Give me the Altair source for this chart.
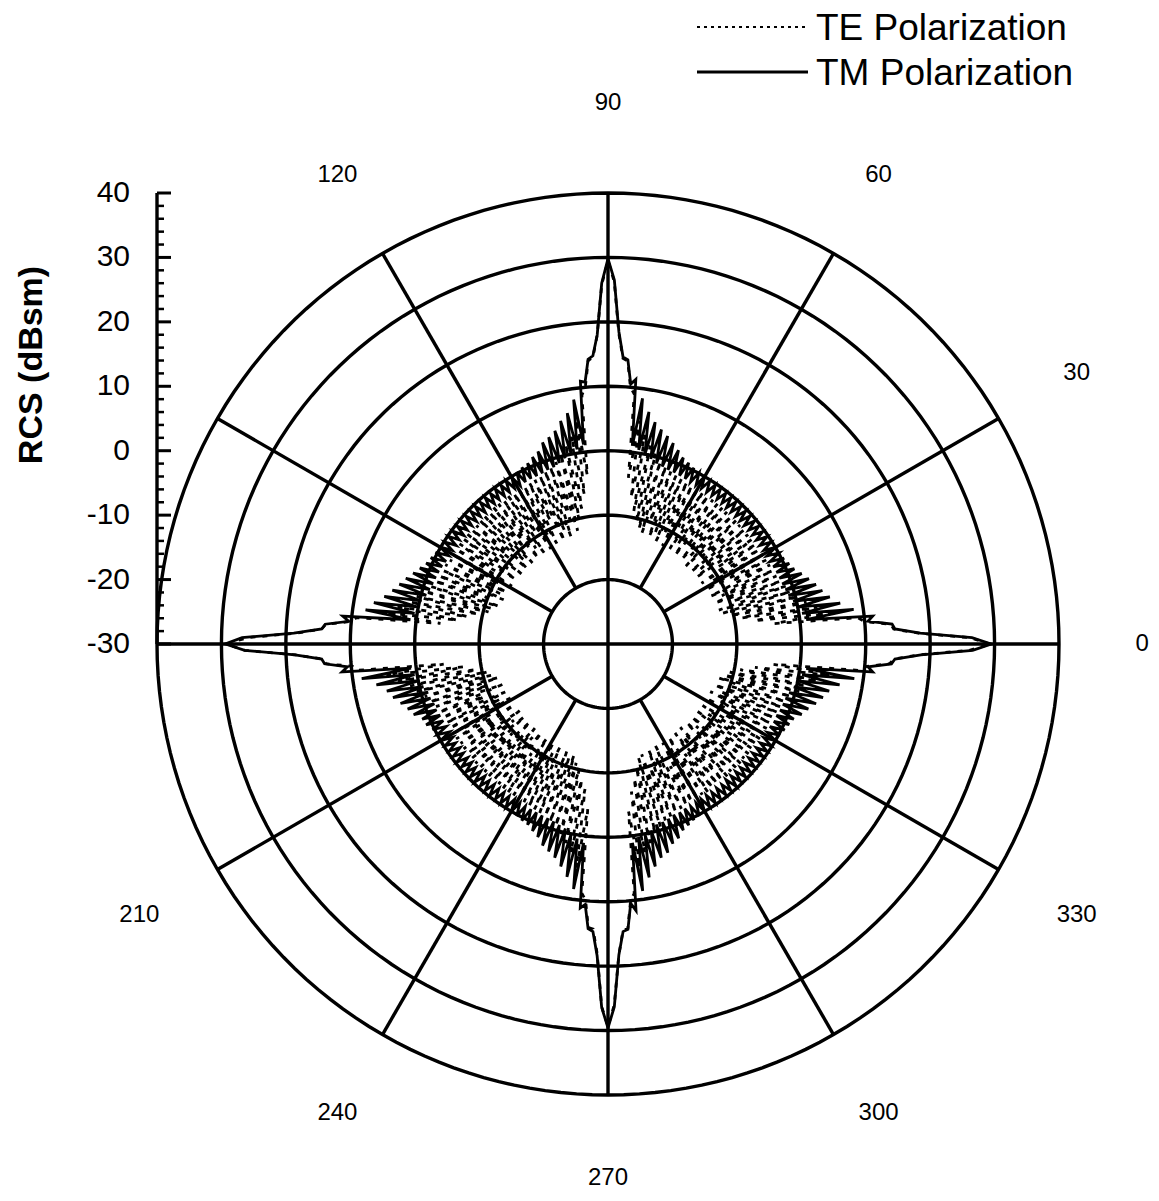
import altair as alt
import pandas as pd

FONT = "Liberation Sans, Arial, Helvetica, sans-serif"

SERIES = ["TE Polarization", "TM Polarization"]
ANGLE_LABELS = [30, 60, 90, 120, 210, 240, 300, 330]
EDGE_LABELS = [0, 270]
SPOKE_ANGLES = [0, 30, 60, 90, 120, 150, 180, 210, 240, 270, 300, 330]
RING_VALUES = [-20, -10, 0, 10, 20, 30, 40]
MAJOR_TICKS = [-30, -20, -10, 0, 10, 20, 30, 40]
MINOR_TICKS = [-28, -26, -24, -22, -18, -16, -14, -12, -8, -6, -4, -2,
               2, 4, 6, 8, 12, 14, 16, 18, 22, 24, 26, 28, 32, 34, 36, 38]
R_CENTER = -30   # dBsm at the centre of the plot
R_OUTER = 40     # dBsm at the outer ring
LABEL_R = 54     # dBsm-radius where the angle labels sit
LABEL_R_EDGE = 52.9  # the "0" and "270" labels sit a little closer in
AXIS_TITLE = "RCS  (dBsm)"

# RCS (dBsm) at 1-degree steps, angles 0..89, 90..179, 180..269, 270..359
TM_Q1 = [29.5, 26.5, 18.5, 14.6, 14.2, 10.5, 11.3, 1.0, 8.5, 0.5,
         6.6, 0.0, 5.2, -0.5, 4.3, -1.0, 3.6, -1.2, 2.8, -1.4,
         2.0, -1.5, 1.2, -1.6, 0.8, -1.7, 0.4, -1.8, 0.1, -1.8,
         0.0, -1.8, -0.2, -1.9, -0.2, -1.9, -0.3, -1.9, -0.3, -1.9,
         -0.3, -2.0, -0.3, -2.0, -0.3, -2.0, -0.3, -2.0, -0.3, -2.0,
         -0.3, -1.9, -0.3, -1.9, -0.3, -1.9, -0.2, -1.9, -0.2, -1.8,
         0.0, -1.8, 0.1, -1.8, 0.4, -1.7, 0.8, -1.6, 1.2, -1.5,
         2.0, -1.4, 2.8, -1.2, 3.6, -1.0, 4.3, -0.5, 5.2, 0.0,
         6.6, 0.5, 8.5, 1.0, 11.3, 10.5, 14.2, 14.6, 18.5, 26.5]
TM_Q2 = [29.8, 26.0, 18.0, 14.8, 14.3, 10.8, 11.0, 1.2, 8.3, 0.6,
         6.4, 0.1, 5.4, -0.4, 4.1, -0.9, 3.4, -1.3, 2.9, -1.4,
         1.8, -1.6, 1.3, -1.7, 0.7, -1.7, 0.5, -1.8, 0.2, -1.9,
         -0.1, -1.8, -0.1, -1.9, -0.3, -2.0, -0.2, -1.9, -0.4, -2.0,
         -0.3, -2.0, -0.4, -2.1, -0.3, -2.0, -0.4, -2.1, -0.3, -2.0,
         -0.2, -1.9, -0.3, -2.0, -0.2, -1.8, -0.1, -1.9, -0.1, -1.8,
         0.1, -1.7, 0.3, -1.8, 0.6, -1.6, 0.9, -1.5, 1.5, -1.4,
         2.2, -1.3, 3.0, -1.1, 3.7, -0.8, 4.5, -0.3, 5.5, 0.2,
         6.9, 0.4, 8.0, 0.9, 11.4, 10.4, 14.0, 14.5, 18.8, 26.8]
TM_Q3 = [29.4, 26.4, 18.6, 14.5, 14.1, 10.6, 11.5, 0.8, 8.6, 0.4,
         6.5, -0.1, 5.1, -0.6, 4.4, -1.1, 3.5, -1.2, 2.7, -1.5,
         2.1, -1.5, 1.1, -1.7, 0.9, -1.8, 0.3, -1.8, 0.0, -1.9,
         0.1, -1.9, -0.2, -1.8, -0.3, -2.0, -0.3, -1.9, -0.2, -2.0,
         -0.4, -2.0, -0.3, -1.9, -0.3, -2.1, -0.2, -2.0, -0.4, -1.9,
         -0.3, -2.0, -0.2, -1.9, -0.3, -1.9, -0.2, -1.8, -0.1, -1.9,
         0.0, -1.8, 0.2, -1.7, 0.5, -1.7, 0.7, -1.6, 1.3, -1.5,
         1.9, -1.4, 2.9, -1.2, 3.5, -0.9, 4.2, -0.6, 5.3, 0.1,
         6.7, 0.6, 8.4, 1.1, 11.2, 10.6, 14.3, 14.7, 18.4, 26.4]
TM_Q4 = [29.6, 26.3, 18.3, 14.7, 14.4, 10.4, 11.6, 1.1, 8.7, 0.3,
         6.8, 0.2, 5.3, -0.3, 4.2, -1.0, 3.7, -1.1, 2.6, -1.3,
         2.1, -1.6, 1.2, -1.6, 0.8, -1.8, 0.4, -1.7, 0.2, -1.8,
         -0.1, -1.9, -0.2, -2.0, -0.2, -1.9, -0.3, -2.0, -0.3, -1.9,
         -0.3, -2.1, -0.2, -2.0, -0.4, -2.0, -0.3, -1.9, -0.3, -2.0,
         -0.3, -1.9, -0.3, -1.9, -0.2, -1.9, -0.2, -1.8, -0.1, -1.8,
         0.0, -1.7, 0.2, -1.8, 0.5, -1.6, 0.8, -1.6, 1.1, -1.4,
         2.0, -1.3, 2.7, -1.2, 3.6, -0.9, 4.4, -0.4, 5.1, 0.0,
         6.5, 0.5, 8.6, 1.0, 11.3, 10.5, 14.1, 14.6, 18.6, 26.6]

TE_Q1 = [29.3, 26.2, 18.2, 14.4, 14.0, 10.0, 9.0, -4.0, 5.0, -7.0,
         3.0, -9.0, 1.5, -10.5, 0.5, -11.5, -0.5, -12.0, -1.0, -9.5,
         -1.5, -12.3, -1.8, -10.8, -2.0, -12.5, -2.0, -8.5, -2.2, -12.6,
         -2.2, -11.0, -2.3, -12.7, -2.3, -9.0, -2.4, -12.8, -2.4, -11.5,
         -2.4, -12.9, -2.4, -10.0, -2.4, -12.9, -2.4, -11.2, -2.4, -12.6,
         -2.4, -9.8, -2.4, -12.8, -2.3, -11.0, -2.3, -12.4, -2.2, -8.8,
         -2.2, -12.6, -2.2, -10.5, -2.0, -12.4, -2.0, -11.2, -1.8, -12.2,
         -1.5, -9.8, -1.0, -12.0, -0.5, -11.5, 0.5, -10.5, 1.5, -9.0,
         3.0, -7.0, 5.0, -4.0, 9.0, 10.0, 14.0, 14.4, 18.2, 26.2]
TE_Q2 = [29.5, 25.8, 18.0, 14.6, 14.1, 10.2, 8.8, -3.6, 5.2, -6.5,
         2.8, -8.6, 1.7, -10.2, 0.4, -11.8, -0.6, -9.8, -1.1, -12.4,
         -1.4, -11.0, -1.9, -12.6, -2.1, -8.8, -2.1, -12.5, -2.3, -10.6,
         -2.2, -12.8, -2.4, -9.4, -2.3, -12.7, -2.5, -11.4, -2.4, -12.9,
         -2.3, -10.2, -2.5, -12.8, -2.4, -11.6, -2.3, -12.9, -2.5, -9.6,
         -2.4, -12.7, -2.3, -11.1, -2.4, -12.5, -2.2, -9.1, -2.3, -12.6,
         -2.1, -10.8, -2.2, -12.3, -1.9, -11.5, -2.0, -12.4, -1.7, -9.9,
         -1.4, -12.1, -1.1, -11.2, -0.4, -10.8, 0.6, -9.4, 1.4, -7.8,
         3.2, -6.4, 4.8, -3.8, 9.2, 10.1, 13.9, 14.5, 18.4, 26.0]
TE_Q3 = [29.2, 26.4, 18.5, 14.3, 13.9, 9.8, 9.1, -4.3, 4.8, -7.3,
         3.1, -9.2, 1.4, -10.8, 0.6, -11.2, -0.4, -12.2, -0.9, -10.1,
         -1.6, -12.5, -1.7, -9.2, -1.9, -12.4, -2.1, -11.3, -2.2, -12.7,
         -2.3, -8.9, -2.2, -12.6, -2.4, -10.8, -2.3, -12.9, -2.5, -11.2,
         -2.4, -12.8, -2.3, -9.7, -2.5, -12.9, -2.4, -10.9, -2.3, -12.7,
         -2.5, -11.4, -2.4, -12.8, -2.3, -9.3, -2.2, -12.6, -2.3, -10.7,
         -2.1, -12.5, -2.2, -11.0, -2.0, -12.3, -1.9, -9.6, -1.7, -12.1,
         -1.6, -11.4, -0.9, -12.0, -0.6, -10.9, 0.4, -10.2, 1.6, -8.6,
         2.9, -7.2, 5.1, -4.2, 8.9, 9.9, 14.1, 14.3, 18.1, 26.3]
TE_Q4 = [29.4, 26.0, 18.3, 14.5, 14.2, 10.1, 8.9, -3.8, 5.1, -6.8,
         2.9, -8.8, 1.6, -10.4, 0.3, -11.7, -0.5, -12.1, -1.2, -9.7,
         -1.5, -12.4, -1.8, -10.9, -2.0, -12.6, -2.1, -8.7, -2.2, -12.5,
         -2.3, -11.2, -2.4, -12.8, -2.3, -9.2, -2.4, -12.7, -2.5, -11.6,
         -2.4, -12.9, -2.3, -10.1, -2.5, -12.8, -2.4, -11.3, -2.3, -12.8,
         -2.4, -9.9, -2.3, -12.7, -2.4, -11.0, -2.2, -12.5, -2.1, -8.9,
         -2.3, -12.6, -2.1, -10.6, -2.0, -12.5, -1.9, -11.1, -1.6, -12.3,
         -1.4, -9.7, -1.1, -12.1, -0.4, -11.4, 0.6, -10.6, 1.4, -9.1,
         3.1, -6.9, 4.9, -4.1, 9.1, 10.1, 13.8, 14.5, 18.3, 26.1]

# ---------------------------------------------------------------- tables
TE = TE_Q1 + TE_Q2 + TE_Q3 + TE_Q4
TM = TM_Q1 + TM_Q2 + TM_Q3 + TM_Q4
ANGLES = list(range(len(TM)))
data = pd.DataFrame({
    "angle": ANGLES + ANGLES,
    "rcs": TE + TM,
    "series": [SERIES[0]] * len(TE) + [SERIES[1]] * len(TM),
})

ring_rows = [{"ring": v, "angle": a} for v in RING_VALUES for a in range(0, 360, 2)]
rings = pd.DataFrame(ring_rows)
spokes = pd.DataFrame({"angle": SPOKE_ANGLES})
ticks_major = pd.DataFrame({"tick": MAJOR_TICKS, "label": [str(v) for v in MAJOR_TICKS]})
ticks_minor = pd.DataFrame({"tick": MINOR_TICKS})
angle_labels = pd.DataFrame({"angle": ANGLE_LABELS, "label": [str(a) for a in ANGLE_LABELS]})
edge_labels = pd.DataFrame({"angle": EDGE_LABELS, "label": [str(a) for a in EDGE_LABELS]})
axis_span = pd.DataFrame({"lo": [R_CENTER], "hi": [R_OUTER]})

SPAN = R_OUTER - R_CENTER
SIDE = 902
GRID_W = 3.4
xs = alt.Scale(domain=[-SPAN, SPAN], nice=False, zero=False)
ys = alt.Scale(domain=[-SPAN, SPAN], nice=False, zero=False)


def px(field):
    return f"({field} - ({R_CENTER})) * cos(datum.angle * PI / 180)"


def py(field):
    return f"({field} - ({R_CENTER})) * sin(datum.angle * PI / 180)"


ring_layer = alt.Chart(rings).transform_calculate(
    x=px("datum.ring"), y=py("datum.ring")
).mark_line(interpolate="linear-closed", stroke="black", strokeWidth=GRID_W).encode(
    x=alt.X("x:Q", scale=xs, axis=None),
    y=alt.Y("y:Q", scale=ys, axis=None),
    detail="ring:N",
    order="angle:Q",
)

spoke_layer = alt.Chart(spokes).transform_calculate(
    r0=f"(datum.angle % 90 == 0) ? 0 : ({RING_VALUES[0]} - ({R_CENTER}))",
    x0="datum.r0 * cos(datum.angle * PI / 180)",
    y0="datum.r0 * sin(datum.angle * PI / 180)",
    x1=f"{SPAN} * cos(datum.angle * PI / 180)",
    y1=f"{SPAN} * sin(datum.angle * PI / 180)",
).mark_rule(stroke="black", strokeWidth=GRID_W).encode(
    x=alt.X("x0:Q", scale=xs, axis=None),
    y=alt.Y("y0:Q", scale=ys, axis=None),
    x2="x1:Q",
    y2="y1:Q",
)

te_layer = alt.Chart(data).transform_filter(
    alt.datum.series == SERIES[0]
).transform_calculate(
    x=px("datum.rcs"), y=py("datum.rcs")
).mark_line(interpolate="linear-closed", stroke="black", strokeWidth=2.8,
            strokeDash=[5, 7]).encode(
    x=alt.X("x:Q", scale=xs, axis=None),
    y=alt.Y("y:Q", scale=ys, axis=None),
    order="angle:Q",
)

tm_layer = alt.Chart(data).transform_filter(
    alt.datum.series == SERIES[1]
).transform_calculate(
    x=px("datum.rcs"), y=py("datum.rcs")
).mark_line(interpolate="linear-closed", stroke="black", strokeWidth=2.8).encode(
    x=alt.X("x:Q", scale=xs, axis=None),
    y=alt.Y("y:Q", scale=ys, axis=None),
    order="angle:Q",
)

# ---------------------------------------------------------------- left axis
axis_line = alt.Chart(axis_span).transform_calculate(
    ax=f"{-SPAN}",
    y0=f"datum.lo - ({R_CENTER})", y1=f"datum.hi - ({R_CENTER})"
).mark_rule(stroke="black", strokeWidth=3.4).encode(
    x=alt.X("ax:Q", scale=xs, axis=None),
    y=alt.Y("y0:Q", scale=ys, axis=None),
    y2="y1:Q",
)

major_ticks = alt.Chart(ticks_major).transform_calculate(
    ax=f"{-SPAN}",
    ty=f"datum.tick - ({R_CENTER})"
).mark_rule(stroke="black", strokeWidth=3, x2Offset=14).encode(
    x=alt.X("ax:Q", scale=xs, axis=None),
    x2="ax:Q",
    y=alt.Y("ty:Q", scale=ys, axis=None),
)

minor_ticks = alt.Chart(ticks_minor).transform_calculate(
    ax=f"{-SPAN}",
    ty=f"datum.tick - ({R_CENTER})"
).mark_rule(stroke="black", strokeWidth=2.5, x2Offset=7).encode(
    x=alt.X("ax:Q", scale=xs, axis=None),
    x2="ax:Q",
    y=alt.Y("ty:Q", scale=ys, axis=None),
)

tick_labels = alt.Chart(ticks_major).transform_calculate(
    ax=f"{-SPAN}",
    ty=f"datum.tick - ({R_CENTER})"
).mark_text(align="right", baseline="middle", dx=-27, fontSize=30,
            font=FONT, color="black").encode(
    x=alt.X("ax:Q", scale=xs, axis=None),
    y=alt.Y("ty:Q", scale=ys, axis=None),
    text="label:N",
)

axis_title = alt.Chart(pd.DataFrame({"t": [AXIS_TITLE]})).mark_text(
    angle=270, align="center", baseline="middle", fontSize=34,
    fontWeight="bold", font=FONT, color="black"
).encode(x=alt.value(-125), y=alt.value(172), text="t:N")

# ---------------------------------------------------------------- angle labels
def angle_text_layer(df, radius):
    return alt.Chart(df).transform_calculate(
        x=f"({radius} - ({R_CENTER})) * cos(datum.angle * PI / 180)",
        y=f"({radius} - ({R_CENTER})) * sin(datum.angle * PI / 180)",
    ).mark_text(align="center", baseline="middle", fontSize=24, font=FONT,
                color="black").encode(
        x=alt.X("x:Q", scale=xs, axis=None),
        y=alt.Y("y:Q", scale=ys, axis=None),
        text="label:N",
    )


angle_text = angle_text_layer(angle_labels, LABEL_R)
edge_text = angle_text_layer(edge_labels, LABEL_R_EDGE)

# ---------------------------------------------------------------- legend
leg_te = pd.DataFrame({"s": [SERIES[0]]})
leg_tm = pd.DataFrame({"s": [SERIES[1]]})
legend_layers = [
    alt.Chart(leg_te).mark_rule(stroke="black", strokeWidth=2, strokeDash=[3, 4]).encode(
        x=alt.value(540), x2=alt.value(650), y=alt.value(-166)),
    alt.Chart(leg_te).mark_text(align="left", baseline="middle", fontSize=37,
                                font=FONT, color="black").encode(
        x=alt.value(659), y=alt.value(-164), text="s:N"),
    alt.Chart(leg_tm).mark_rule(stroke="black", strokeWidth=2.8).encode(
        x=alt.value(540), x2=alt.value(651), y=alt.value(-121)),
    alt.Chart(leg_tm).mark_text(align="left", baseline="middle", fontSize=37,
                                font=FONT, color="black").encode(
        x=alt.value(659), y=alt.value(-119), text="s:N"),
]

chart = alt.layer(
    ring_layer, spoke_layer, te_layer, tm_layer,
    axis_line, major_ticks, minor_ticks, tick_labels, axis_title,
    angle_text, edge_text, *legend_layers,
).properties(
    width=SIDE, height=SIDE,
    autosize=alt.AutoSizeParams(type="none"),
    padding={"left": 149, "top": 185, "right": 92, "bottom": 98},
).configure_view(strokeWidth=0)

chart.save("out.html", embed_options={"renderer": "svg", "actions": False})
